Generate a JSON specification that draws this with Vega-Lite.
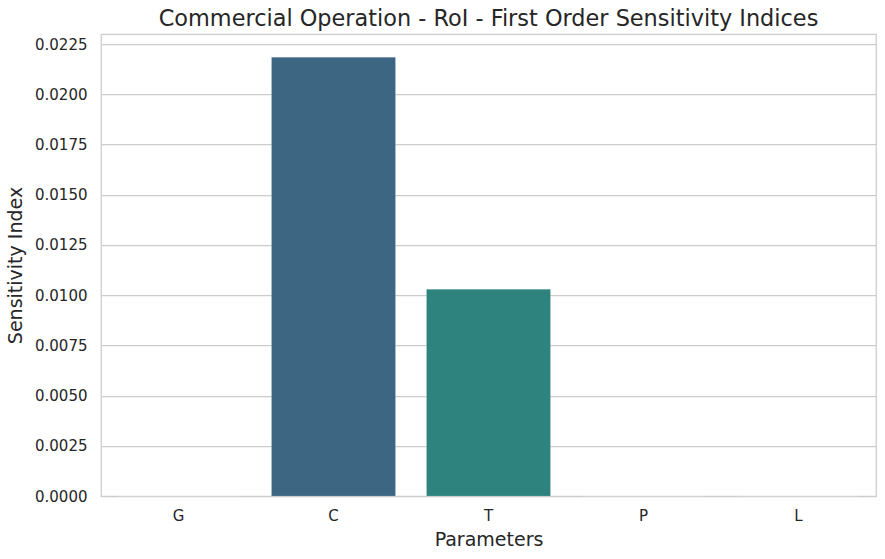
{
  "$schema": "https://vega.github.io/schema/vega-lite/v6.json",
  "width": 775,
  "height": 462,
  "autosize": "none",
  "padding": {"left": 101, "top": 34, "right": 9, "bottom": 63},
  "background": "white",
  "title": {
    "text": "Commercial Operation - RoI - First Order Sensitivity Indices",
    "font": "DejaVu Sans",
    "fontSize": 22.4,
    "fontWeight": "normal",
    "color": "#262626",
    "anchor": "middle",
    "baseline": "alphabetic",
    "offset": 8,
    "dy": 22
  },
  "config": {
    "view": {"stroke": "#cccccc", "strokeWidth": 1.25},
    "font": "DejaVu Sans"
  },
  "data": {
    "values": [
      {"param": "G", "value": 0.000003},
      {"param": "C", "value": 0.02184},
      {"param": "T", "value": 0.01029},
      {"param": "P", "value": 0.000004},
      {"param": "L", "value": 0.000003}
    ]
  },
  "mark": {"type": "bar", "stroke": "#ffffff", "strokeOpacity": 0.15, "strokeWidth": 1},
  "encoding": {
    "x": {
      "field": "param",
      "type": "nominal",
      "sort": ["G", "C", "T", "P", "L"],
      "scale": {"paddingInner": 0.2, "paddingOuter": 0.1},
      "axis": {
        "title": "Parameters",
        "titleFont": "DejaVu Sans",
        "titleFontSize": 19,
        "titleFontWeight": "normal",
        "titleColor": "#262626",
        "titlePadding": 7,
        "labelAngle": 0,
        "labelFont": "DejaVu Sans",
        "labelFontSize": 15,
        "labelColor": "#262626",
        "labelPadding": 12,
        "ticks": false,
        "domain": false,
        "grid": false
      }
    },
    "y": {
      "field": "value",
      "type": "quantitative",
      "scale": {"domain": [0, 0.023], "nice": false, "zero": true},
      "axis": {
        "title": "Sensitivity Index",
        "titleFont": "DejaVu Sans",
        "titleFontSize": 19,
        "titleFontWeight": "normal",
        "titleColor": "#262626",
        "titlePadding": 9,
        "values": [0, 0.0025, 0.005, 0.0075, 0.01, 0.0125, 0.015, 0.0175, 0.02, 0.0225],
        "format": ".4f",
        "labelFont": "DejaVu Sans",
        "labelFontSize": 15,
        "labelColor": "#262626",
        "labelPadding": 14,
        "ticks": false,
        "domain": false,
        "grid": true,
        "gridColor": "#cccccc",
        "gridWidth": 1.25
      }
    },
    "color": {
      "field": "param",
      "type": "nominal",
      "scale": {
        "domain": ["G", "C", "T", "P", "L"],
        "range": ["#4b427a", "#3d6682", "#2f837f", "#45a778", "#8fc556"]
      },
      "legend": null
    }
  }
}
